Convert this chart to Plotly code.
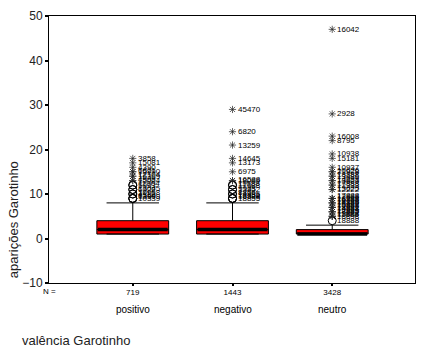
import plotly.graph_objects as go

categories = ["positivo", "negativo", "neutro"]
n_cases = [719, 1443, 3428]
q1 = [1, 1, 1]
median = [2, 2, 1]
q3 = [4, 4, 2]
whisker_low = [1, 1, 1]
whisker_high = [8, 8, 3]

# outliers (circles) and extremes (asterisks) with case labels
pos_outlier_values = [9, 9, 9, 10, 10, 11, 11, 12, 12]
pos_outlier_labels = ["10339", "13399", "8569", "4112", "10958", "6922", "13045", "5993", "11904"]
pos_extreme_values = [13, 13, 14, 14, 15, 15, 16, 17, 18]
pos_extreme_labels = ["15024", "4998", "16369", "12104", "15990", "6621", "4390", "15081", "3858"]

neg_outlier_values = [9, 9, 9, 10, 10, 11, 11, 12, 12]
neg_outlier_labels = ["18855", "16888", "12358", "14435", "8866", "13852", "9933", "17588", "11588"]
neg_extreme_values = [13, 13, 15, 17, 18, 21, 24, 29]
neg_extreme_labels = ["18089", "16588", "6975", "13173", "14645", "13259", "6820", "45470"]

neu_outlier_values = [4]
neu_outlier_labels = ["18888"]
neu_extreme_values = [5, 5, 5, 6, 6, 6, 7, 7, 7, 8, 8, 8, 9, 9, 9,
                      11, 11, 12, 12, 13, 13, 14, 14, 15, 15, 16, 18, 19, 22, 23, 28, 47]
neu_extreme_labels = ["18898", "11888", "13888", "18885", "12889", "14888", "18881", "10888", "15888",
                      "18889", "18188", "16888", "18388", "12888", "17888",
                      "12222", "13625", "12333", "17888", "13823", "14888", "13486", "18888",
                      "21928", "10626", "10937", "15181", "10938", "8795", "16008", "2928", "16042"]

outlier_values = [pos_outlier_values, neg_outlier_values, neu_outlier_values]
outlier_labels = [pos_outlier_labels, neg_outlier_labels, neu_outlier_labels]
extreme_values = [pos_extreme_values, neg_extreme_values, neu_extreme_values]
extreme_labels = [pos_extreme_labels, neg_extreme_labels, neu_extreme_labels]

FONT = "Liberation Sans, Arial, sans-serif"
BOX_W = 0.72

fig = go.Figure()
annotations = []

for i, cat in enumerate(categories):
    fig.add_trace(go.Box(
        x=[i], q1=[q1[i]], median=[median[i]], q3=[q3[i]],
        lowerfence=[whisker_low[i]], upperfence=[whisker_high[i]],
        width=BOX_W, whiskerwidth=0.73,
        fillcolor="#ff0000", line=dict(color="black", width=1),
        boxpoints=False, showlegend=False, hoverinfo="skip",
    ))
    # thick median line
    fig.add_trace(go.Scatter(
        x=[i - BOX_W / 2 + 0.01, i + BOX_W / 2 - 0.01], y=[median[i], median[i]],
        mode="lines", line=dict(color="black", width=3.5),
        showlegend=False, hoverinfo="skip",
    ))
    fig.add_trace(go.Scatter(
        x=[i] * len(outlier_values[i]), y=outlier_values[i], mode="markers",
        marker=dict(symbol="circle-open", size=8, color="black", line=dict(width=1)),
        showlegend=False, hoverinfo="skip",
    ))
    fig.add_trace(go.Scatter(
        x=[i] * len(extreme_values[i]), y=extreme_values[i], mode="markers",
        marker=dict(symbol="asterisk-open", size=6, color="#222", line=dict(width=0.7)),
        showlegend=False, hoverinfo="skip",
    ))
    for vals, labs in ((outlier_values[i], outlier_labels[i]), (extreme_values[i], extreme_labels[i])):
        seen = {}
        for v, lab in zip(vals, labs):
            k = seen.get(v, 0)
            seen[v] = k + 1
            annotations.append(dict(
                x=i, y=v, xref="x", yref="y", text=lab, showarrow=False,
                xanchor="left", yanchor="middle", xshift=3, yshift=1.5 * k,
                font=dict(family=FONT, size=8, color="black"),
            ))
    annotations.append(dict(
        x=i, y=-0.1, xref="paper" if False else "x", yref="paper", text=cat, showarrow=False,
        xanchor="center", yanchor="middle",
        font=dict(family=FONT, size=10, color="black"),
    ))

annotations.append(dict(
    x=0.0, y=-0.03, xref="paper", yref="paper", text="N =", showarrow=False,
    xanchor="center", yanchor="middle", font=dict(family=FONT, size=8, color="black"),
))
annotations.append(dict(
    x=-0.079, y=-0.214, xref="paper", yref="paper", text="valência Garotinho", showarrow=False,
    xanchor="left", yanchor="middle", font=dict(family=FONT, size=13, color="#222"),
))
annotations.append(dict(
    x=-0.095, y=0.236, xref="paper", yref="paper", text="aparições Garotinho", showarrow=False,
    xanchor="center", yanchor="middle", textangle=-90,
    font=dict(family=FONT, size=13, color="#222"),
))

fig.update_layout(
    width=425, height=351,
    margin=dict(l=49, r=9, t=12, b=68),
    paper_bgcolor="white", plot_bgcolor="white",
    font=dict(family=FONT, color="black"),
    annotations=annotations,
    xaxis=dict(
        range=[-0.84, 2.83], tickmode="array", tickvals=[0, 1, 2],
        ticktext=[str(n) for n in n_cases],
        tickfont=dict(family=FONT, size=8, color="black"),
        ticks="outside", ticklen=2, tickwidth=2, tickcolor="black",
        ticklabelstandoff=-1,
        showgrid=False, zeroline=False, showline=True, linecolor="black", linewidth=1, mirror=True,
    ),
    yaxis=dict(
        range=[-10, 50], tickmode="array", tickvals=[-10, 0, 10, 20, 30, 40, 50],
        tickfont=dict(family=FONT, size=12, color="#222"),
        ticks="outside", ticklen=3, tickwidth=2, tickcolor="black",
        showgrid=False, zeroline=False, showline=True, linecolor="black", linewidth=1, mirror=True,
    ),
)

fig.write_html("out.html")
